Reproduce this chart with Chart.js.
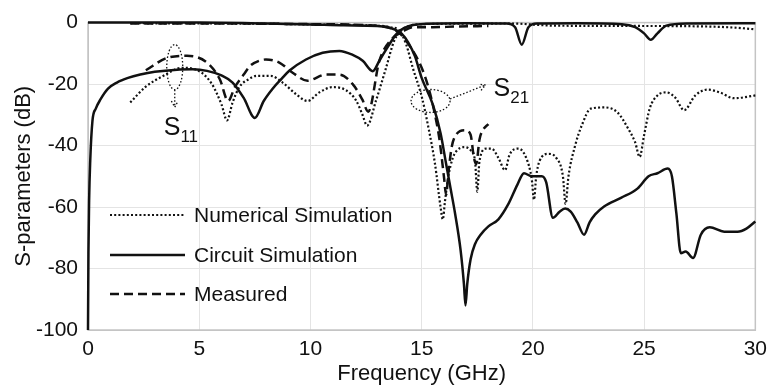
<!DOCTYPE html>
<html>
<head>
<meta charset="utf-8">
<script src="https://cdn.jsdelivr.net/npm/chart.js@4"></script>
<style>
  html, body { margin: 0; padding: 0; background: #fff; }
  #wrap { width: 774px; height: 387px; }
</style>
</head>
<body>
<div id="wrap"><canvas id="chart" width="774" height="387"></canvas></div>
<script>
// Eixos
const xTicks = [0, 5, 10, 15, 20, 25, 30];
const yTicks = [0, -20, -40, -60, -80, -100];

// Numerical Simulation [GHz, dB]
const numS11 = [[1.9,-26],[2.57,-21],[3.47,-17],[4.2,-14.7],[4.95,-15.6],[5.57,-20],[6.0,-26.6],[6.25,-31.8],[6.5,-26],[6.8,-21],
  [7.2,-18.5],[7.6,-17.3],[8.2,-17.3],[8.75,-19.5],[9.37,-23.4],[9.87,-25.5],[10.4,-22.7],[11.0,-21],[11.6,-22],[12.05,-25.3],
  [12.33,-29.8],[12.55,-33.5],[12.95,-25.3],[13.4,-14.7],[13.76,-6],[14.1,-2.5],[14.5,-1],[15,-0.5],[19,-0.3],[21,-1],
  [25,-1.1],[28,-1.3],[29,-1.6],[30,-2.2]];
const numS21 = [[1.9,-0.2],[8,-0.4],[11,-0.7],[13,-1],[13.6,-1.5],[14.0,-2.7],[14.3,-7],[14.6,-14.7],[15.0,-24],[15.3,-34],
  [15.6,-46],[15.85,-60],[15.95,-64],[16.05,-58],[16.2,-50],[16.4,-44],[16.6,-41.5],[16.9,-40.5],[17.2,-41.5],[17.4,-45],
  [17.5,-55],[17.6,-45],[17.9,-41],[18.15,-41],[18.45,-44],[18.75,-48],[18.95,-43],[19.35,-41],[19.7,-44],[19.95,-51],
  [20.05,-57.6],[20.15,-50],[20.3,-45],[20.7,-42.7],[21.05,-44],[21.35,-50],[21.47,-59],[21.6,-50],[21.9,-40],[22.2,-33.4],
  [22.6,-28],[23.2,-27.6],[23.8,-29.2],[24.3,-34.7],[24.6,-39],[24.8,-43.7],[25.0,-36.6],[25.25,-28],[25.6,-23.7],[26.0,-22.7],
  [26.4,-24.4],[26.8,-28.5],[27.3,-23.7],[27.85,-21.8],[28.4,-22.7],[29.05,-24.6],[30,-23.7]];

// Circuit Simulation
const cirS11 = [[0,-100],[0.02,-75],[0.05,-58],[0.1,-45],[0.2,-32],[0.35,-28],[0.56,-25],[0.9,-21.5],[1.3,-19.5],[1.8,-18],
  [2.35,-16.9],[3.0,-16],[4.0,-15.3],[4.7,-15.2],[5.35,-15.7],[6.0,-17.2],[6.5,-19.5],[7.0,-24.5],[7.5,-31],[7.9,-25.5],
  [8.3,-21.5],[8.7,-18.3],[9.06,-15.6],[9.8,-12],[10.55,-9.8],[11.3,-9.2],[11.9,-10.5],[12.35,-12.4],[12.8,-15.8],[13.1,-12.4],
  [13.45,-8.2],[13.9,-3.4],[14.2,-1.8],[14.6,-0.8],[15.2,-0.4],[17,-0.2],[18.8,-0.3],[19.2,-1.5],[19.5,-7.2],[19.8,-1.5],
  [20.2,-0.3],[22,-0.2],[24,-0.5],[24.6,-1.5],[25.0,-3.5],[25.3,-5.6],[25.6,-3.5],[26.0,-1],[27,-0.3],[30,-0.2]];
const cirS21 = [[0,0],[5,0],[8,-0.3],[10,-0.6],[11.5,-0.9],[13,-1.1],[13.5,-1.6],[13.8,-2.3],[14.1,-3.6],[14.4,-6.5],
  [14.7,-11],[15.0,-18],[15.5,-26.6],[15.85,-36],[16.1,-46],[16.3,-54],[16.5,-62],[16.75,-74],[16.9,-85],[16.97,-92],
  [17.05,-85],[17.2,-77],[17.4,-72],[17.65,-69],[18.0,-66.3],[18.45,-64],[18.9,-59],[19.3,-52.8],[19.6,-49],[19.95,-50],
  [20.4,-50],[20.6,-52],[20.9,-63.5],[21.2,-61.5],[21.45,-60.5],[21.7,-61.5],[22.0,-65],[22.3,-69],[22.55,-65],[22.8,-62.4],
  [23.2,-59.8],[23.96,-57],[24.7,-54],[25.2,-50],[25.6,-49],[26.06,-47.5],[26.25,-50],[26.45,-62],[26.65,-75],[26.87,-74.5],
  [27.2,-76.6],[27.55,-69],[27.95,-66.6],[28.6,-68],[29.2,-68],[29.6,-67],[30,-64.7]];

// Measured
const meaS11 = [[2.6,-15.5],[3.55,-11.5],[4.45,-10.8],[5.35,-13],[5.93,-18.5],[6.3,-25.5],[6.6,-21],[7.0,-16.9],[7.3,-14],
  [7.7,-12.4],[8.0,-12],[8.6,-13],[9.2,-16.3],[9.87,-18.9],[10.7,-16.9],[11.3,-16.9],[11.9,-20],[12.33,-25],[12.6,-29],
  [13.1,-12.4],[13.7,-5],[14.0,-3.5],[14.3,-2.3],[14.6,-1.5],[15.5,-1.5],[16.5,-1.3],[18.0,-1.1]];
const meaS21 = [[1.9,-0.3],[6,-0.3],[10,-0.5],[13,-1],[13.6,-1.8],[14.0,-3.4],[14.5,-8],[15,-14.7],[15.3,-21],[15.6,-30],
  [15.8,-38],[16.0,-50],[16.1,-56],[16.2,-49],[16.35,-40.5],[16.5,-37],[16.96,-35],[17.2,-36.5],[17.35,-44],[17.45,-46],
  [17.6,-38],[17.75,-35],[18.0,-33]];

const legendLabels = ['Numerical Simulation', 'Circuit Simulation', 'Measured'];

const ink = '#111';
const fontFamily = "'Liberation Sans', Arial, sans-serif";
const styles = [
  { borderDash: [2, 2.2], borderWidth: 2.2 },
  { borderDash: [], borderWidth: 2.5 },
  { borderDash: [9, 5], borderWidth: 2.5 }
];

function series(points, style) {
  return {
    data: points.map(p => ({ x: p[0], y: p[1] })),
    borderColor: ink,
    borderWidth: style.borderWidth,
    borderDash: style.borderDash,
    pointRadius: 0,
    fill: false,
    cubicInterpolationMode: 'monotone',
    clip: 3
  };
}

// Moldura da área do gráfico
const framePlugin = {
  id: 'frame',
  beforeDatasetsDraw(chart) {
    const { ctx, chartArea: a } = chart;
    ctx.save();
    ctx.strokeStyle = '#c4c4c4';
    ctx.lineWidth = 1.5;
    ctx.strokeRect(a.left, a.top, a.right - a.left, a.bottom - a.top);
    ctx.restore();
  }
};

// Legenda interna e anotações S11 / S21
const notesPlugin = {
  id: 'notes',
  afterDatasetsDraw(chart) {
    const { ctx } = chart;
    const xs = chart.scales.x, ys = chart.scales.y;
    ctx.save();
    ctx.strokeStyle = ink;
    ctx.fillStyle = ink;

    // legenda
    const rows = [215, 255, 294];
    legendLabels.forEach((label, i) => {
      ctx.lineWidth = styles[i].borderWidth;
      ctx.setLineDash(styles[i].borderDash);
      ctx.beginPath();
      ctx.moveTo(110, rows[i]);
      ctx.lineTo(185, rows[i]);
      ctx.stroke();
      ctx.setLineDash([]);
      ctx.font = '21px ' + fontFamily;
      ctx.textBaseline = 'middle';
      ctx.textAlign = 'left';
      ctx.fillText(label, 194, rows[i] + 1);
    });

    // setas e elipses pontilhadas
    ctx.lineWidth = 1.3;
    ctx.setLineDash([1.5, 2]);
    const arrow = (x1, y1, x2, y2) => {
      ctx.beginPath(); ctx.moveTo(x1, y1); ctx.lineTo(x2, y2); ctx.stroke();
      const ang = Math.atan2(y2 - y1, x2 - x1);
      ctx.beginPath();
      ctx.moveTo(x2 - 7 * Math.cos(ang - 0.5), y2 - 7 * Math.sin(ang - 0.5));
      ctx.lineTo(x2, y2);
      ctx.lineTo(x2 - 7 * Math.cos(ang + 0.5), y2 - 7 * Math.sin(ang + 0.5));
      ctx.stroke();
    };

    const c11x = xs.getPixelForValue(3.9), c11y = ys.getPixelForValue(-14.5);
    ctx.beginPath(); ctx.ellipse(c11x, c11y, 8, 22.5, 0, 0, Math.PI * 2); ctx.stroke();
    arrow(c11x, c11y + 22.5, c11x, c11y + 40);

    const c21x = xs.getPixelForValue(15.4), c21y = ys.getPixelForValue(-25.5);
    ctx.beginPath(); ctx.ellipse(c21x, c21y, 19.5, 11.5, 0, 0, Math.PI * 2); ctx.stroke();
    arrow(c21x + 19.5, c21y - 2, c21x + 55, c21y - 16);
    ctx.setLineDash([]);

    const label = (x, y, sub) => {
      ctx.textBaseline = 'alphabetic';
      ctx.textAlign = 'left';
      ctx.font = '25px ' + fontFamily;
      ctx.fillText('S', x, y);
      const w = ctx.measureText('S').width;
      ctx.font = '17px ' + fontFamily;
      ctx.fillText(sub, x + w, y + 7);
    };
    label(c11x - 11, c11y + 68, '11');
    label(c21x + 63, c21y - 5, '21');
    ctx.restore();
  }
};

new Chart(document.getElementById('chart'), {
  type: 'line',
  data: {
    datasets: [
      series(numS11, styles[0]), series(numS21, styles[0]),
      series(cirS11, styles[1]), series(cirS21, styles[1]),
      series(meaS11, styles[2]), series(meaS21, styles[2])
    ]
  },
  options: {
    responsive: false,
    animation: false,
    layout: { padding: { top: 19, right: 16, left: 0, bottom: 0 } },
    plugins: { legend: { display: false }, tooltip: { enabled: false } },
    scales: {
      x: {
        type: 'linear',
        min: 0, max: 30,
        afterBuildTicks: s => { s.ticks = xTicks.map(v => ({ value: v })); },
        afterFit: s => { s.height = 57; },
        grid: { color: '#e4e4e4', drawTicks: false },
        border: { color: '#c4c4c4' },
        ticks: { padding: 7, color: '#111', font: { family: fontFamily, size: 21 } },
        title: { display: true, text: 'Frequency (GHz)', color: '#111', padding: { top: 0, bottom: 0 },
          font: { family: fontFamily, size: 22 } }
      },
      y: {
        min: -100, max: 0,
        afterBuildTicks: s => { s.ticks = yTicks.map(v => ({ value: v })); },
        afterFit: s => { s.width = 88; },
        grid: { color: '#e4e4e4', drawTicks: false },
        border: { color: '#c4c4c4' },
        ticks: { padding: 10, color: '#111', font: { family: fontFamily, size: 21 } },
        title: { display: true, text: 'S-parameters (dB)', color: '#111', padding: { top: 11, bottom: 0 },
          font: { family: fontFamily, size: 22 } }
      }
    }
  },
  plugins: [framePlugin, notesPlugin]
});
</script>
</body>
</html>
